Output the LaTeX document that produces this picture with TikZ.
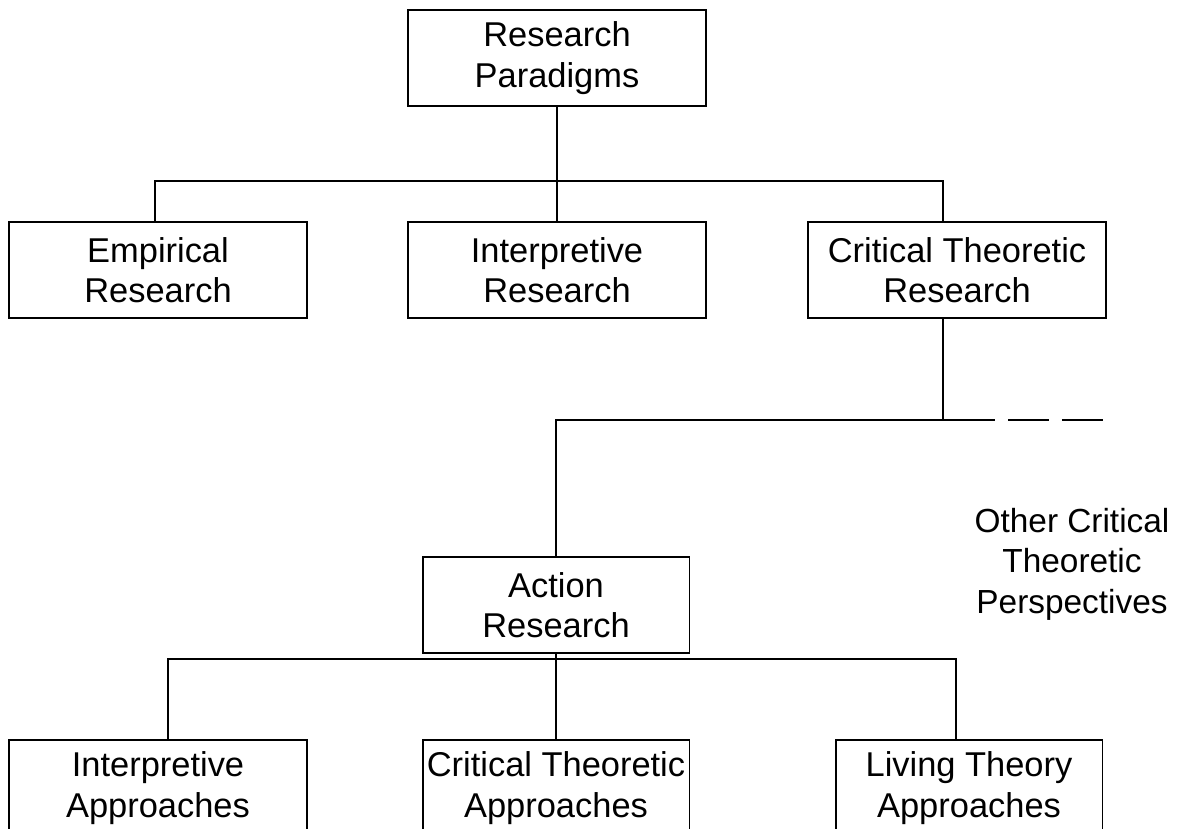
\documentclass[tikz,border=0pt]{standalone}
\usepackage{fontspec}
\setmainfont{Liberation Sans}
\usepackage{tikz}

\begin{document}
\begin{tikzpicture}[x=0.02cm, y=-0.02cm, line width=1.1pt,
	box/.style={draw, align=center, minimum width=5.96cm, minimum height=1.92cm,
		font=\fontsize{19.6}{23}\selectfont},
	narrowbox/.style={box, inner xsep=0pt, minimum width=5.34cm}]
	\useasboundingbox (0, 0) rectangle (1182, 828);

	% boxes
	\node[box] (paradigms) at (557, 58) {Research\\Paradigms};
	\node[box] (empirical) at (158, 270) {Empirical\\Research};
	\node[box] (interpretive) at (557, 270) {Interpretive\\Research};
	\node[box] (critical) at (957, 270) {Critical Theoretic\\Research};
	\node[narrowbox] (action) at (556, 605) {Action\\Research};
	\node[box] (interpapp) at (158, 788) {Interpretive\\Approaches};
	\node[narrowbox] (critapp) at (556, 788) {Critical Theoretic\\Approaches};
	\node[narrowbox] (livingapp) at (969, 788) {Living Theory\\Approaches};
	\node[align=center, font=\fontsize{19}{23}\selectfont] (other) at (1072, 564)
		{Other Critical\\Theoretic\\Perspectives};

	% connectors
	\draw (paradigms) -- (interpretive);
	\draw ([xshift=-0.06cm]empirical.north) -- ++(0, -40) -| ([xshift=-0.28cm]critical.north);
	\draw ([xshift=-0.28cm]critical.south) -- ++(0, 101) coordinate (branch);
	\draw (branch) -| (action.north);
	\draw[dash pattern=on 1.04cm off 0.26cm on 0.82cm off 0.26cm on 0.82cm]
		(branch) -- ++(160, 0) coordinate (dashend);
	\draw (action) -- (critapp);
	\draw ([xshift=0.2cm]interpapp.north) -- ++(0, -80) -| ([xshift=-0.26cm]livingapp.north);
\end{tikzpicture}
\end{document}
